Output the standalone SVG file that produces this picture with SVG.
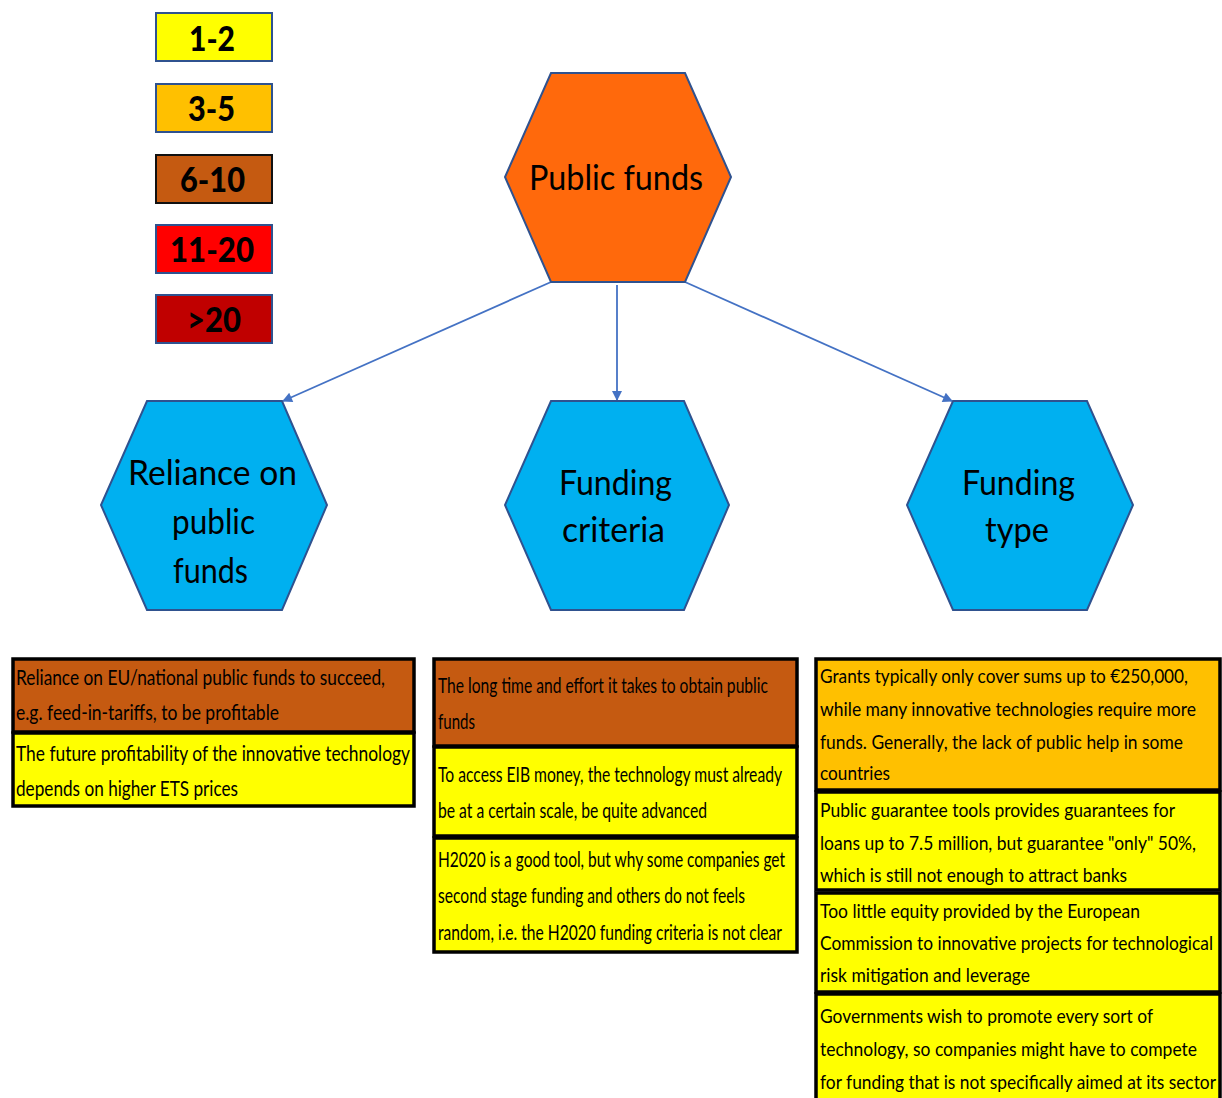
<svg xmlns="http://www.w3.org/2000/svg" width="1222" height="1098" viewBox="0 0 1222 1098">
  <style>
    .leg { stroke: #2F528F; stroke-width: 2; }
    .legt { font-family: Lato, "Liberation Sans", sans-serif; font-weight: 900; font-size: 34px; fill: #000; text-anchor: start; }
    .hex { stroke: #2F528F; stroke-width: 2; }
    .hext { font-family: Lato, "Noto Sans", sans-serif; font-size: 34px; fill: #000; }
    .cell { stroke: #000; stroke-width: 3.5; }
    .ct { font-family: Lato, "Liberation Sans", sans-serif; font-size: 21px; fill: #000; }
    .ctm { font-size: 22px; }
    .ctr { font-size: 20px; }
    .conn { stroke: #4472C4; stroke-width: 1.8; fill: none; marker-end: url(#arr); }
  </style>
  <defs>
    <marker id="arr" viewBox="0 0 10 10" refX="9" refY="5" markerWidth="11" markerHeight="10" orient="auto" markerUnits="userSpaceOnUse">
      <path d="M0,0 L10,5 L0,10 z" fill="#4472C4"/>
    </marker>
  </defs>
  <rect width="1222" height="1098" fill="#fff"/>

  <!-- legend -->
  <g id="legend">
    <rect class="leg" x="156" y="13" width="116" height="48" fill="#FFFF00"/>
    <text class="legt" x="189" y="51" textLength="46" lengthAdjust="spacingAndGlyphs">1-2</text>
    <rect class="leg" x="156" y="84" width="116" height="48" fill="#FFC000"/>
    <text class="legt" x="188" y="121" textLength="47" lengthAdjust="spacingAndGlyphs">3-5</text>
    <rect x="156" y="155" width="116" height="48" fill="#C55A11" stroke="#111" stroke-width="2"/>
    <text class="legt" x="180" y="192" textLength="65" lengthAdjust="spacingAndGlyphs">6-10</text>
    <rect class="leg" x="156" y="225" width="116" height="48" fill="#FF0000"/>
    <text class="legt" x="170" y="262" textLength="84" lengthAdjust="spacingAndGlyphs">11-20</text>
    <rect class="leg" x="156" y="295" width="116" height="48" fill="#C00000"/>
    <text class="legt" x="187" y="332" textLength="54" lengthAdjust="spacingAndGlyphs">&gt;20</text>
  </g>

  <!-- connectors -->
  <g id="connectors">
    <line class="conn" x1="551" y1="282" x2="283" y2="401"/>
    <line class="conn" x1="617" y1="285" x2="617" y2="400"/>
    <line class="conn" x1="685" y1="282" x2="952" y2="401"/>
  </g>

  <!-- hexagon nodes -->
  <g id="public-funds">
    <polygon class="hex" points="551,73 685,73 731,177 685,282 551,282 505,177" fill="#FF690C"/>
    <text class="hext" x="529" y="190" textLength="174" lengthAdjust="spacingAndGlyphs">Public funds</text>
  </g>
  <g id="reliance">
    <polygon class="hex" points="147,401 282,401 327,505 282,610 147,610 101,505" fill="#00B0F0"/>
    <text class="hext" x="128" y="485" textLength="169" lengthAdjust="spacingAndGlyphs">Reliance on</text>
    <text class="hext" x="172" y="534" textLength="83" lengthAdjust="spacingAndGlyphs">public</text>
    <text class="hext" x="173" y="583" textLength="75" lengthAdjust="spacingAndGlyphs">funds</text>
  </g>
  <g id="funding-criteria">
    <polygon class="hex" points="551,401 684,401 729,505 684,610 551,610 505,505" fill="#00B0F0"/>
    <text class="hext" x="559" y="495" textLength="113" lengthAdjust="spacingAndGlyphs">Funding</text>
    <text class="hext" x="562" y="542" textLength="103" lengthAdjust="spacingAndGlyphs">criteria</text>
  </g>
  <g id="funding-type">
    <polygon class="hex" points="953,401 1087,401 1133,505 1087,610 953,610 907,505" fill="#00B0F0"/>
    <text class="hext" x="962" y="495" textLength="113" lengthAdjust="spacingAndGlyphs">Funding</text>
    <text class="hext" x="985" y="542" textLength="64" lengthAdjust="spacingAndGlyphs">type</text>
  </g>

  <!-- barrier tables -->
  <g id="table-reliance">
    <rect class="cell" x="13" y="659" width="401" height="73" fill="#C55A11"/>
    <text class="ct" x="16" y="685" textLength="369" lengthAdjust="spacingAndGlyphs">Reliance on EU/national public funds to succeed,</text>
    <text class="ct" x="16" y="720" textLength="263" lengthAdjust="spacingAndGlyphs">e.g. feed-in-tariffs, to be profitable</text>
    <rect class="cell" x="13" y="733" width="401" height="73" fill="#FFFF00"/>
    <text class="ct" x="16" y="761" textLength="394" lengthAdjust="spacingAndGlyphs">The future profitability of the innovative technology</text>
    <text class="ct" x="16" y="796" textLength="222" lengthAdjust="spacingAndGlyphs">depends on higher ETS prices</text>
  </g>

  <g id="table-criteria">
    <rect class="cell" x="434" y="659" width="363" height="87" fill="#C55A11"/>
    <text class="ct ctm" x="438" y="693" textLength="330" lengthAdjust="spacingAndGlyphs">The long time and effort it takes to obtain public</text>
    <text class="ct ctm" x="438" y="729" textLength="37" lengthAdjust="spacingAndGlyphs">funds</text>
    <rect class="cell" x="434" y="747" width="363" height="89" fill="#FFFF00"/>
    <text class="ct ctm" x="438" y="782" textLength="344" lengthAdjust="spacingAndGlyphs">To access EIB money, the technology must already</text>
    <text class="ct ctm" x="438" y="818" textLength="269" lengthAdjust="spacingAndGlyphs">be at a certain scale, be quite advanced</text>
    <rect class="cell" x="434" y="838" width="363" height="114" fill="#FFFF00"/>
    <text class="ct ctm" x="438" y="867" textLength="347" lengthAdjust="spacingAndGlyphs">H2020 is a good tool, but why some companies get</text>
    <text class="ct ctm" x="438" y="903" textLength="307" lengthAdjust="spacingAndGlyphs">second stage funding and others do not feels</text>
    <text class="ct ctm" x="438" y="940" textLength="344" lengthAdjust="spacingAndGlyphs">random, i.e. the H2020 funding criteria is not clear</text>
  </g>

  <g id="table-type">
    <rect class="cell" x="816" y="659" width="404" height="131" fill="#FFC000"/>
    <text class="ct ctr" x="820" y="683" textLength="368" lengthAdjust="spacingAndGlyphs">Grants typically only cover sums up to €250,000,</text>
    <text class="ct ctr" x="820" y="716" textLength="376" lengthAdjust="spacingAndGlyphs">while many innovative technologies require more</text>
    <text class="ct ctr" x="820" y="749" textLength="363" lengthAdjust="spacingAndGlyphs">funds. Generally, the lack of public help in some</text>
    <text class="ct ctr" x="820" y="780" textLength="70" lengthAdjust="spacingAndGlyphs">countries</text>
    <rect class="cell" x="816" y="792" width="404" height="98" fill="#FFFF00"/>
    <text class="ct ctr" x="820" y="817" textLength="355" lengthAdjust="spacingAndGlyphs">Public guarantee tools provides guarantees for</text>
    <text class="ct ctr" x="820" y="850" textLength="376" lengthAdjust="spacingAndGlyphs">loans up to 7.5 million, but guarantee "only" 50%,</text>
    <text class="ct ctr" x="820" y="882" textLength="307" lengthAdjust="spacingAndGlyphs">which is still not enough to attract banks</text>
    <rect class="cell" x="816" y="893" width="404" height="99" fill="#FFFF00"/>
    <text class="ct ctr" x="820" y="918" textLength="320" lengthAdjust="spacingAndGlyphs">Too little equity provided by the European</text>
    <text class="ct ctr" x="820" y="950" textLength="393" lengthAdjust="spacingAndGlyphs">Commission to innovative projects for technological</text>
    <text class="ct ctr" x="820" y="982" textLength="210" lengthAdjust="spacingAndGlyphs">risk mitigation and leverage</text>
    <rect class="cell" x="816" y="994" width="404" height="110" fill="#FFFF00"/>
    <text class="ct ctr" x="820" y="1023" textLength="333" lengthAdjust="spacingAndGlyphs">Governments wish to promote every sort of</text>
    <text class="ct ctr" x="820" y="1056" textLength="377" lengthAdjust="spacingAndGlyphs">technology, so companies might have to compete</text>
    <text class="ct ctr" x="820" y="1089" textLength="396" lengthAdjust="spacingAndGlyphs">for funding that is not specifically aimed at its sector</text>
  </g>
</svg>
